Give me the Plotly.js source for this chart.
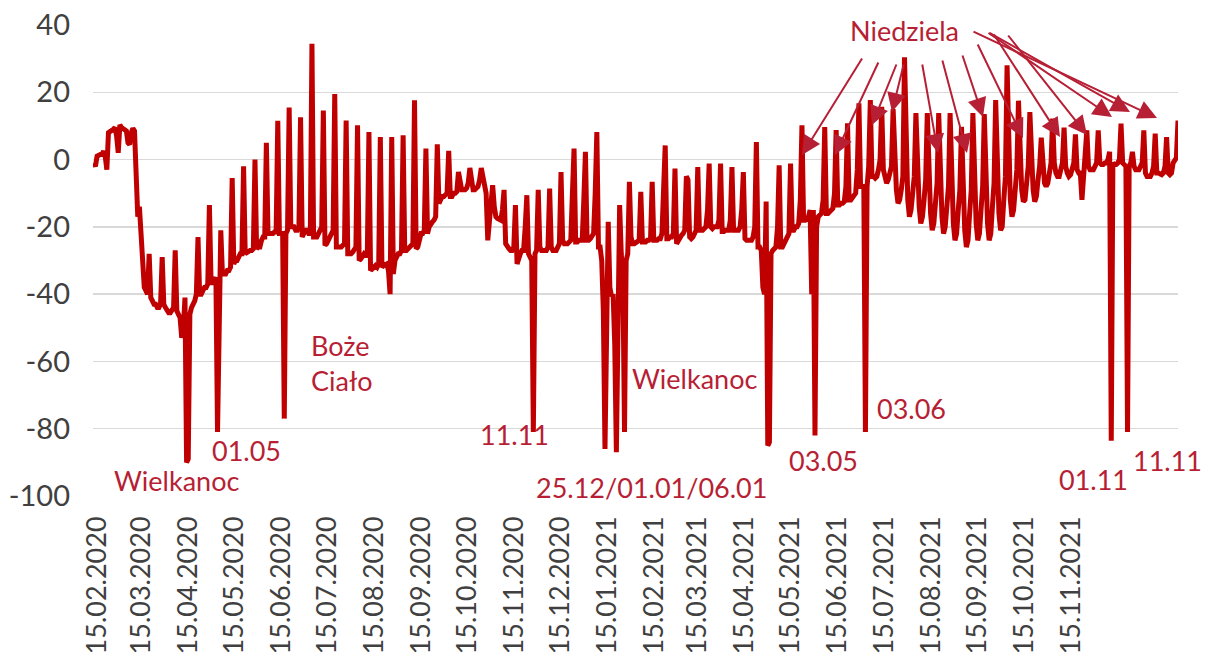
<!DOCTYPE html>
<html>
<head>
<meta charset="utf-8">
<script src="https://cdn.plot.ly/plotly-3.0.1.min.js"></script>
<style>html,body{margin:0;padding:0;background:#fff;}#chart{width:1206px;height:664px;}</style>
</head>
<body>
<div id="chart"></div>
<script>
// Daily values, one row = one week (Saturday .. Friday), starting 15.02.2020
const weeks2020a = [
  -1, -2, 1, 1.5, 1.5, 1.5, 2.5,
  1, -3, 8, 8.2, 8.5, 9, 9.5,
  7, 2, 10.3, 9.5, 9, 9, 8.5,
  5, 4.5, 8, 9.3, 8.5, -12, -17,
  -14, -21, -33, -38, -39, -40, -28,
  -41, -42, -43, -43, -44, -44, -43,
  -29, -43, -44, -45, -45.5, -45.5, -45,
  -44, -27, -45, -46, -47, -53, -50,
  -41, -90, -89, -46, -44, -43, -42,
  -40, -23, -40, -40, -39, -38, -38,
  -37, -13.5, -36, -37, -36, -35, -81,
  -35, -21, -34, -34, -34, -33, -33
];
const weeks2020b = [
  -32, -5.5, -31, -30, -30, -29, -28,
  -28, -2, -28, -27.5, -27, -27, -27,
  -26.5, 0, -26.5, -26, -26, -24, -23,
  -23, 5, -22, -22, -22, -22, -21.5,
  -21.5, 11.5, -22, -22, -22, -77, -22,
  -21, 15.5, -20, -20, -20, -21, -21,
  -20, 12.6, -23, -22, -21, -21, -22,
  -22, 34.4, -23, -23, -23, -22, -21,
  -20, 14.6, -25.5, -25, -24, -23, -22,
  -21, 19.5, -26, -26, -26, -26, -25.5,
  -25, 11.6, -28, -28, -28, -27.5, -27,
  -26, 10.2, -30, -29.5, -29, -28, -28.5,
  -28.5, 8.2, -33, -32.5, -32, -31.5, -32,
  -31, 6.7, -32, -31.5, -31, -31, -33
];
const weeks2020c = [
  -40, 6.7, -34, -30, -29, -28, -28,
  -27, 7.2, -27, -27, -26.5, -26, -26,
  -25, 17.6, -26.5, -26, -24, -22, -22,
  -21, 3.3, -22, -20, -19, -18.5, -18,
  -17, 4.5, -13, -12, -11, -11, -10.5,
  -10, 2.6, -11, -11, -10, -10, -9.5,
  -3.7, -6, -9, -9, -9, -8.5, -7,
  -2.5, -5, -9, -9, -8.5, -8, -6,
  -2.5, -5, -8, -10, -24, -18, -12,
  -7.6, -14, -17, -17.5, -18, -18, -15,
  -9, -25, -26, -26.5, -27, -27, -26,
  -13.5, -31, -29, -28, -27, -27, -20,
  -10.6, -28, -29, -30, -81, -28, -27,
  -9, -26, -27, -27, -27, -27, -26,
  -8.6, -26, -27, -27, -27, -26, -25,
  -3.7, -24, -25, -25, -25, -24.5, -24,
  -10, 3.3, -24.5, -24.5, -24, -24, -24,
  -12, 2.3, -24, -24, -23.5, -23, -22
];
const weeks2021a = [
  -10, 8.2, -26, -26, -30, -45, -86,
  -50, -18.5, -38, -40.6, -40, -55, -87,
  -40, -13.5, -28, -35, -81, -30, -28,
  -6.6, -23, -25, -25, -24.5, -24.5, -24,
  -9.6, -24.5, -24.5, -24.5, -24, -24, -23.5,
  -6.6, -24, -24, -24, -23.5, -23.5, -22,
  -10, 4.2, -23.5, -23.5, -23, -23, -22,
  -2.7, -25, -24, -23, -22.5, -22, -21,
  -5, -6, -23, -23.5, -23, -22, -21,
  -2.2, -21, -21, -21, -20.5, -20, -15,
  -1.2, -20, -20.5, -20, -20, -20, -18,
  -1.2, -21.4, -21.4, -21, -21, -21, -18,
  -2.2, -21, -21, -21, -21, -20, -15,
  -3.7, -23.5, -24, -24, -24, -24, -23,
  -20, 5.2, -26, -26, -27, -38, -40,
  -12.5, -85, -84, -28, -27, -26.5, -26,
  -20, -1.7, -26, -26, -25, -24, -23
];
const weeks2021b = [
  -22, -1.2, -21, -21, -20, -20, -19,
  -12, 10.2, -18, -18, -17.5, -17, -15,
  -40, -15, -82, -20, -17, -16.5, -16,
  -12, 9.7, -16, -16, -15.5, -15, -14.5,
  -10, 8.8, -13.5, -13.5, -13, -13, -12.5,
  -8, 10.8, -12, -12, -11.5, -11, -10,
  -3, 16.7, -8, -8, -8, -81, -8,
  -2, 17.7, -5, -5, -5.5, -5, -3,
  0, 15.7, -3, -5, -7, -6, -4,
  -2, 15, -3, -9, -13, -12, -9,
  -5, 30.4, -2, -12, -17, -15, -10,
  -5, 13.8, -4, -14, -19, -17, -12,
  -6, 13.8, -5, -16, -21, -19, -13,
  -7, 13.8, -6, -17, -22, -20, -14,
  -8, 13.8, -7, -19, -24, -22, -15,
  -9, 9.7, -8, -21, -26, -24, -16,
  -9, 13.8, -7, -19, -24, -22, -15,
  -8, 13.5, -7, -19, -24, -22, -14
];
const weeks2021c = [
  -7, 17.7, -5, -16, -21, -20, -12,
  -5, 28, -3, -12, -17, -15, -9,
  -3, 17.5, -2, -9, -12.5, -12, -7,
  -2, 14.1, -2, -9, -12.5, -11, -6,
  -2, 6.5, -3, -7, -8, -7, -4,
  -1, 12.2, -1, -4, -5, -5, -3,
  -1, 9.5, -2, -4, -5, -4.5, -3,
  -1, 7.5, -3, -4, -4, -12, -4,
  -2, 8.7, -2, -3, -3, -3, -2,
  -1, 8.7, -1, -1.5, -1.5, -1, -1,
  0, 2.3, -83.6, -1, -1.5, -1.5, -1,
  0, 10.7, -1, -1.5, -2, -81, -2,
  -1, 2.3, -2, -3, -3, -3, -2,
  -1, 8.7, -4, -5, -5, -5, -4,
  -2, 7.7, -4, -4, -4.5, -4.5, -4,
  -2, 6.7, -4, -4.5, -4, -1, 0,
  0.5, 11.6
];

const tickLabels = ["15.02.2020","15.03.2020","15.04.2020","15.05.2020","15.06.2020","15.07.2020",
  "15.08.2020","15.09.2020","15.10.2020","15.11.2020","15.12.2020","15.01.2021","15.02.2021",
  "15.03.2021","15.04.2021","15.05.2021","15.06.2021","15.07.2021","15.08.2021","15.09.2021",
  "15.10.2021","15.11.2021"];
// positions of the tick labels on the day index axis (as placed in the original chart)
const tickIdx = [1.9,28.9,57.8,86.1,114.9,143.2,172.1,200.9,229.2,258.1,286.3,315.2,344.0,
  370.5,399.3,427.6,456.5,485.3,514.2,542.4,571.3,600.2];
const yTicks = [-100,-80,-60,-40,-20,0,20,40];

const values = [].concat(weeks2020a, weeks2020b, weeks2020c, weeks2021a, weeks2021b, weeks2021c);
const dayIdx = values.map((v,i)=>i);

const L=93, T=25, W=1085, H=471;
const xr=[-0.5, values.length-1], yr=[-100,40];
const dx = px => xr[0]+(px-L)/W*(xr[1]-xr[0]);
const dy = py => yr[1]-(py-T)/H*(yr[1]-yr[0]);

const red='#B71F35';
const fontFam='Lato, "Open Sans", sans-serif';
const labels = [
  {t:'Wielkanoc', x:176, y:480},
  {t:'01.05', x:246, y:450},
  {t:'11.11', x:514, y:434},
  {t:'25.12/01.01/06.01', x:651, y:487},
  {t:'Wielkanoc', x:694, y:378},
  {t:'03.05', x:823, y:460},
  {t:'03.06', x:911, y:408},
  {t:'01.11', x:1093, y:479},
  {t:'11.11', x:1167, y:460},
  {t:'Niedziela', x:904, y:30}
];
const annotations = labels.map(o=>({x:dx(o.x), y:dy(o.y), text:o.t, showarrow:false,
  xanchor:'center', yanchor:'middle', font:{family:fontFam, size:27, color:red}}));
annotations.push({x:dx(309), y:dy(363), text:'Boże<br>Ciało', showarrow:false, align:'left',
  xanchor:'left', yanchor:'middle', font:{family:fontFam, size:27, color:red}});

// arrows: [tail x, tail y, head x, head y] in pixels
const arrows = [
  [863,57,802,155],[879,61,835,155],[897,63,872,125],[904,63,892,112],
  [922,63,938,153],[942,59,967,153],[962,54,983,117],[977,43,1023,138],
  [993,33,1060,137],[1007,34,1087,135],[987,32,1112,117],[988,32,1130,112],
  [972,31,1157,118]
];
arrows.forEach(a=>annotations.push({x:dx(a[2]), y:dy(a[3]), ax:a[0]-a[2], ay:a[1]-a[3],
  text:'', showarrow:true, arrowhead:2, arrowsize:1.9, arrowwidth:2, arrowcolor:red, standoff:0}));

const trace = {x:dayIdx, y:values, type:'scatter', mode:'lines',
  line:{color:'#C00000', width:5}, hoverinfo:'skip'};

const layout = {
  width:1206, height:664,
  margin:{l:L, r:1206-L-W, t:T, b:664-T-H},
  paper_bgcolor:'#fff', plot_bgcolor:'#fff',
  showlegend:false,
  xaxis:{range:xr, tickmode:'array', tickvals:tickIdx, ticktext:tickLabels, tickangle:-90,
    showgrid:false, zeroline:false, showline:false, ticks:'',
    tickfont:{family:fontFam, size:27, color:'#404040'}, ticklabelstandoff:14},
  yaxis:{range:yr, tickmode:'array', tickvals:yTicks, ticktext:yTicks.map(String),
    showgrid:true, gridcolor:'#D9D9D9', gridwidth:1.3, zeroline:false, showline:false, ticks:'',
    tickfont:{family:fontFam, size:29, color:'#404040'}, ticklabelstandoff:22},
  annotations:annotations
};
Plotly.newPlot('chart',[trace],layout,{displayModeBar:false, staticPlot:true});
</script>
</body>
</html>
